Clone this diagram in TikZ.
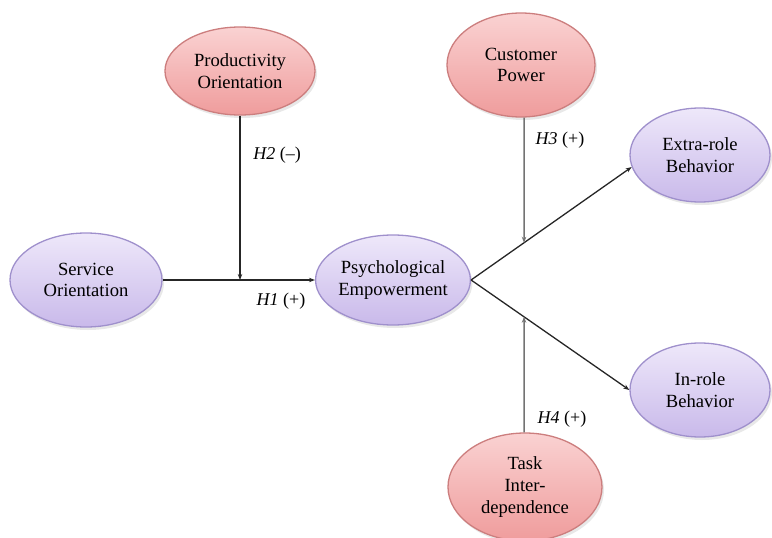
\documentclass[tikz,border=0pt]{standalone}
\usepackage{fontspec}
\setmainfont{Liberation Serif}
\usetikzlibrary{shapes.geometric,arrows.meta,shadows}
\definecolor{pinkA}{HTML}{FAD2D2}
\definecolor{pinkB}{HTML}{EF9C9C}
\definecolor{pinkE}{HTML}{CC7E7E}
\definecolor{purA}{HTML}{EEE8FA}
\definecolor{purB}{HTML}{C9B9EA}
\definecolor{purE}{HTML}{9F90CC}
\tikzset{
  cons/.style={ellipse, inner sep=0pt, align=center, font=\fontsize{18.6}{21.8}\selectfont, line width=1.3pt,
    drop shadow={opacity=0.18, shadow xshift=2pt, shadow yshift=-3pt}},
  pinkel/.style={cons, draw=pinkE, top color=pinkA, bottom color=pinkB},
  purel/.style={cons, draw=purE, top color=purA, bottom color=purB},
  arr/.style={line width=1.3pt, draw=black!85, -{Stealth[length=6pt,width=4.5pt]}},
  modarr/.style={line width=1.5pt, draw=black!55, -{Stealth[length=6pt,width=4.5pt]}},
  hlab/.style={font=\fontsize{18}{21}\selectfont, inner sep=0pt}
}
\begin{document}
\begin{tikzpicture}[x=1pt,y=-1pt]
\useasboundingbox (0,0) rectangle (772,538);
\node[purel, minimum width=152pt, minimum height=94pt] (so) at (86,280) {Service\\Orientation};
\node[purel, minimum width=152pt, minimum height=90pt] (pe) at (393,280) {Psychological\\Empowerment};
\node[pinkel, minimum width=150pt, minimum height=88pt] (po) at (240,71) {Productivity\\Orientation};
\node[pinkel, minimum width=148pt, minimum height=104pt] (cp) at (521,65) {Customer\\Power};
\node[purel, minimum width=140pt, minimum height=94pt] (ex) at (700,155) {Extra-role\\Behavior};
\node[purel, minimum width=140pt, minimum height=94pt] (ir) at (700,390) {In-role\\Behavior};
\node[pinkel, minimum width=154pt, minimum height=108pt] (td) at (525,487) {Task\\Inter-\\dependence};

\coordinate (cpb) at ([xshift=3pt]cp.south);
\coordinate (tdt) at ([xshift=-1pt]td.north);
\coordinate (h3) at (intersection of pe.east--ex.190 and cpb--tdt);
\coordinate (h4) at (intersection of pe.east--ir.west and cpb--tdt);

\draw[arr] (so.east) -- (pe.west);
\draw[arr] (pe.east) -- (ex.190);
\draw[arr] (pe.east) -- (ir.west);
\draw[arr] (po.south) -- (po.south |- pe.center);
\draw[modarr] (cpb) -- (h3);
\draw[modarr] (tdt) -- (h4);

\node[hlab] (l1) at (281,301) {\textit{H1} (+)};
\node[hlab] (l2) at (277,155) {\textit{H2} (–)};
\node[hlab] (l3) at (560,140) {\textit{H3} (+)};
\node[hlab] (l4) at (562,419) {\textit{H4} (+)};
\end{tikzpicture}
\end{document}
